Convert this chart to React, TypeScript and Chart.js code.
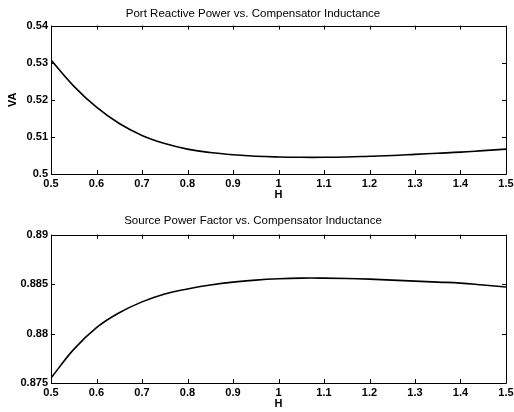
import React, { useEffect, useRef } from "react";
import { Chart, registerables } from "chart.js";

Chart.register(...registerables);

// ---- data ----
const inductanceH = [
  0.5, 0.55, 0.6, 0.65, 0.7, 0.75, 0.8, 0.85, 0.9, 0.95, 1.0,
  1.05, 1.1, 1.15, 1.2, 1.25, 1.3, 1.35, 1.4, 1.45, 1.5,
];
const portReactivePower = [
  0.5307, 0.5237, 0.518, 0.5136, 0.5104, 0.5082, 0.5067, 0.5058, 0.5052, 0.5048, 0.5046,
  0.5045, 0.5045, 0.5046, 0.5048, 0.505, 0.5053, 0.5056, 0.5059, 0.5063, 0.5067,
];
const sourcePowerFactor = [
  0.8755, 0.8784, 0.8806, 0.8821, 0.8832, 0.884, 0.8845, 0.8849, 0.8852, 0.8854, 0.88553,
  0.8856, 0.8856, 0.88557, 0.8855, 0.8854, 0.8853, 0.8852, 0.8851, 0.8849, 0.8847,
];
const xTickValues = [0.5, 0.6, 0.7, 0.8, 0.9, 1.0, 1.1, 1.2, 1.3, 1.4, 1.5];
const xTickLabels = ["0.5", "0.6", "0.7", "0.8", "0.9", "1", "1.1", "1.2", "1.3", "1.4", "1.5"];
const vaTickValues = [0.5, 0.51, 0.52, 0.53, 0.54];
const vaTickLabels = ["0.5", "0.51", "0.52", "0.53", "0.54"];
const pfTickValues = [0.875, 0.88, 0.885, 0.89];
const pfTickLabels = ["0.875", "0.88", "0.885", "0.89"];

const topTitle = "Port Reactive Power vs. Compensator Inductance";
const bottomTitle = "Source Power Factor vs. Compensator Inductance";

const FONT = "'Liberation Sans', Arial, Helvetica, sans-serif";
const TICK_LEN = 4;

const framePlugin = {
  id: "matlabFrame",
  afterDatasetsDraw(chart: any) {
    const { ctx, chartArea, scales } = chart;
    const { left, right, top, bottom } = chartArea;
    ctx.save();
    ctx.strokeStyle = "#000";
    ctx.lineWidth = 1;
    ctx.beginPath();
    ctx.rect(Math.round(left) + 0.5, Math.round(top) + 0.5, Math.round(right - left), Math.round(bottom - top));
    ctx.stroke();
    ctx.beginPath();
    scales.x.ticks.forEach((t: any) => {
      const px = Math.round(scales.x.getPixelForValue(t.value)) + 0.5;
      ctx.moveTo(px, bottom);
      ctx.lineTo(px, bottom - TICK_LEN);
      ctx.moveTo(px, top);
      ctx.lineTo(px, top + TICK_LEN);
    });
    scales.y.ticks.forEach((t: any) => {
      const py = Math.round(scales.y.getPixelForValue(t.value)) + 0.5;
      ctx.moveTo(left, py);
      ctx.lineTo(left + TICK_LEN, py);
      ctx.moveTo(right, py);
      ctx.lineTo(right - TICK_LEN, py);
    });
    ctx.stroke();
    ctx.restore();
  },
};

function makeConfig(p: {
  title: string;
  values: number[];
  yTicks: number[];
  yLabels: string[];
  yTitle: string;
  titlePadTop: number;
  titlePadBottom: number;
  xAxisHeight: number;
  xTitlePadBottom: number;
}): any {
  return {
    type: "line",
    data: {
      datasets: [
        {
          data: inductanceH.map((x, i) => ({ x, y: p.values[i] })),
          borderColor: "#000",
          borderWidth: 1.6,
          pointRadius: 0,
          fill: false,
          tension: 0.4,
        },
      ],
    },
    options: {
      animation: false,
      responsive: false,
      maintainAspectRatio: false,
      layout: { padding: { left: 0, right: 8, top: 0, bottom: 0 } },
      plugins: {
        legend: { display: false },
        tooltip: { enabled: false },
        title: {
          display: true,
          text: p.title,
          color: "#000",
          font: { family: FONT, size: 11.5, weight: "normal", lineHeight: 1.2 },
          padding: { top: p.titlePadTop, bottom: p.titlePadBottom },
        },
      },
      scales: {
        x: {
          type: "linear",
          min: 0.5,
          max: 1.5,
          grid: { display: false, drawTicks: false },
          border: { display: false },
          afterBuildTicks: (s: any) => {
            s.ticks = xTickValues.map((v) => ({ value: v }));
          },
          afterFit: (s: any) => {
            s.height = p.xAxisHeight;
            s.paddingLeft = 0;
            s.paddingRight = 0;
          },
          ticks: {
            color: "#000",
            padding: 3,
            maxRotation: 0,
            autoSkip: false,
            font: { family: FONT, size: 11, weight: "bold" },
            callback: (_v: any, i: number) => xTickLabels[i],
          },
          title: {
            display: true,
            text: "H",
            color: "#000",
            font: { family: FONT, size: 11, weight: "bold", lineHeight: 1.2 },
            padding: { top: 0, bottom: p.xTitlePadBottom },
          },
        },
        y: {
          type: "linear",
          min: p.yTicks[0],
          max: p.yTicks[p.yTicks.length - 1],
          grid: { display: false, drawTicks: false },
          border: { display: false },
          afterBuildTicks: (s: any) => {
            s.ticks = p.yTicks.map((v) => ({ value: v }));
          },
          afterFit: (s: any) => {
            s.width = 51;
            s.paddingTop = 0;
            s.paddingBottom = 0;
          },
          ticks: {
            color: "#000",
            padding: 3,
            autoSkip: false,
            font: { family: FONT, size: 11, weight: "bold" },
            callback: (_v: any, i: number) => p.yLabels[i],
          },
          title: {
            display: p.yTitle !== "",
            text: p.yTitle,
            color: "#000",
            font: { family: FONT, size: 11, weight: "bold", lineHeight: 1.2 },
            padding: { top: 6.4, bottom: 0 },
          },
        },
      },
    },
    plugins: [framePlugin],
  };
}

export default function App() {
  const topRef = useRef<HTMLCanvasElement | null>(null);
  const bottomRef = useRef<HTMLCanvasElement | null>(null);

  useEffect(() => {
    const c1 = new Chart(
      topRef.current!,
      makeConfig({
        title: topTitle,
        values: portReactivePower,
        yTicks: vaTickValues,
        yLabels: vaTickLabels,
        yTitle: "VA",
        titlePadTop: 6.5,
        titlePadBottom: 5.3,
        xAxisHeight: 32,
        xTitlePadBottom: 4.4,
      })
    );
    const c2 = new Chart(
      bottomRef.current!,
      makeConfig({
        title: bottomTitle,
        values: sourcePowerFactor,
        yTicks: pfTickValues,
        yLabels: pfTickLabels,
        yTitle: "",
        titlePadTop: 8.4,
        titlePadBottom: 6.4,
        xAxisHeight: 29,
        xTitlePadBottom: 1.4,
      })
    );
    return () => {
      c1.destroy();
      c2.destroy();
    };
  }, []);

  return (
    <div style={{ position: "absolute", left: 0, top: 0, width: 514, height: 412, background: "#fff" }}>
      <canvas ref={topRef} width={514} height={206} style={{ position: "absolute", left: 0, top: 0 }} />
      <canvas ref={bottomRef} width={514} height={206} style={{ position: "absolute", left: 0, top: 206 }} />
    </div>
  );
}
